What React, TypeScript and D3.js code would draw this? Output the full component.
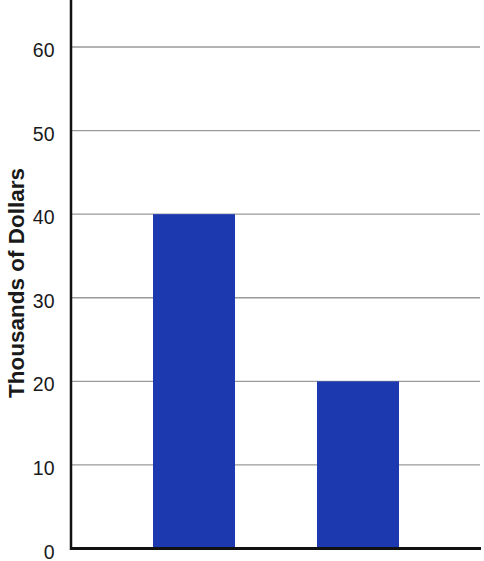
import React from "react";
import * as d3 from "d3";

const categories = ["A", "B"];
const values = [40, 20];
const yTicks = [0, 10, 20, 30, 40, 50, 60];
const yLabel = "Thousands of Dollars";

export default function App() {
  const W = 484, H = 561;
  const left = 71, right = 481;
  const x = d3.scaleBand<string>().domain(categories).range([left, right]).padding(0.5);
  const y = d3.scaleLinear().domain([0, 60]).range([548.5, 47]);
  const font = "'Liberation Sans', Arial, Helvetica, sans-serif";
  return (
    <svg width={W} height={H} style={{ position: "absolute", left: 0, top: 0, background: "#fff" }}>
      {yTicks.filter(t => t > 0).map(t => (
        <line key={t} x1={left} x2={480} y1={y(t)} y2={y(t)} stroke="#9a9a9a" strokeWidth={1.3} />
      ))}
      {categories.map((c, i) => (
        <rect key={c} x={x(c)} y={y(values[i])} width={x.bandwidth()} height={y(0) - y(values[i])} fill="#1d39b0" />
      ))}
      {yTicks.map(t => (
        <text key={t} x={54.5} y={y(t)} dy="0.52em" textAnchor="end" fontFamily={font} fontSize={19.5} fill="#1a1a1a">{t}</text>
      ))}
      <line x1={left} x2={left} y1={0} y2={y(0) + 1.5} stroke="#111" strokeWidth={2.5} />
      <line x1={left - 1} x2={481} y1={y(0)} y2={y(0)} stroke="#111" strokeWidth={3} />
      <text transform={`translate(24,283) rotate(-90)`} textAnchor="middle" fontFamily={font} fontWeight="bold" fontSize={22.5} fill="#1a1a1a">{yLabel}</text>
    </svg>
  );
}
